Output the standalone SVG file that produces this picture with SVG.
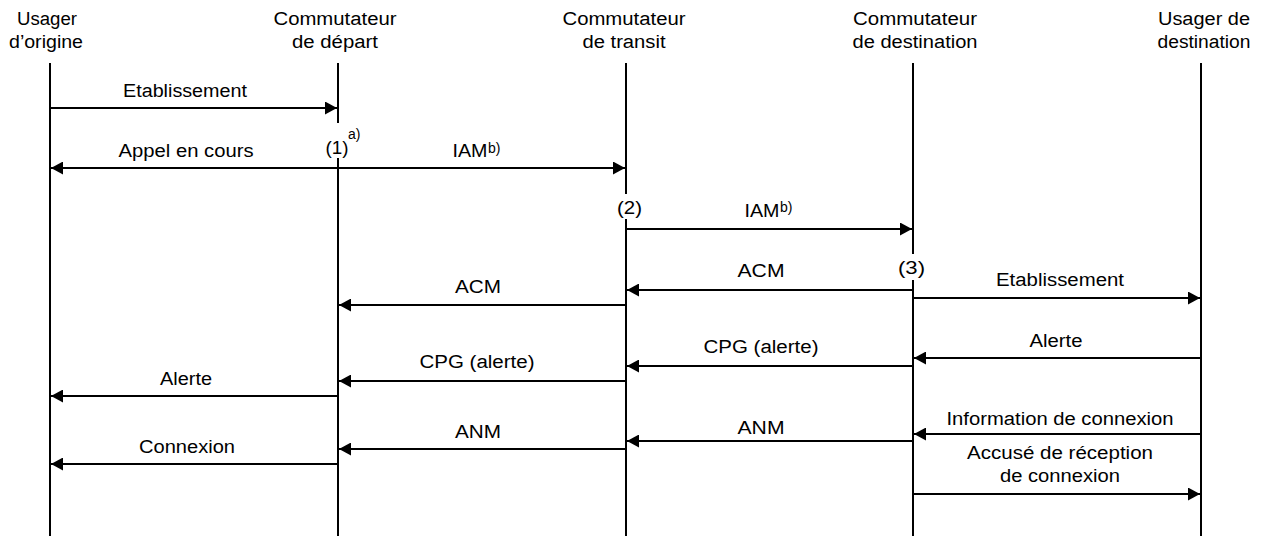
<svg xmlns="http://www.w3.org/2000/svg" width="1262" height="536" viewBox="0 0 1262 536">
  <style>
    text { font-family: "Liberation Sans", Arial, sans-serif; font-size: 18px; fill: #000; text-anchor: middle; }
    text.sup { font-size: 14px; text-anchor: start; }
    .life { stroke: #000; stroke-width: 2; fill: none; }
    .msg { stroke: #000; stroke-width: 2; fill: none; marker-end: url(#head); }
    .both { marker-start: url(#head); }
    .mask { fill: #fff; stroke: none; }
  </style>
  <defs>
    <marker id="head" markerUnits="userSpaceOnUse" markerWidth="12" markerHeight="13" refX="12" refY="6.5" orient="auto-start-reverse">
      <path d="M0,0 L12,6.5 L0,13 Z" fill="#000"/>
    </marker>
  </defs>
  <rect width="1262" height="536" fill="#fff"/>

  <!-- participants -->
  <g id="usager-origine">
    <line class="life" x1="50" y1="63" x2="50" y2="536"/>
    <text x="47" y="25" textLength="60" lengthAdjust="spacingAndGlyphs">Usager</text>
    <text x="46" y="48" textLength="74" lengthAdjust="spacingAndGlyphs">d’origine</text>
  </g>
  <g id="commutateur-depart">
    <line class="life" x1="338" y1="63" x2="338" y2="536"/>
    <text x="335" y="25" textLength="123" lengthAdjust="spacingAndGlyphs">Commutateur</text>
    <text x="335" y="48" textLength="86" lengthAdjust="spacingAndGlyphs">de départ</text>
  </g>
  <g id="commutateur-transit">
    <line class="life" x1="626" y1="63" x2="626" y2="536"/>
    <text x="624" y="25" textLength="123" lengthAdjust="spacingAndGlyphs">Commutateur</text>
    <text x="624" y="48" textLength="83" lengthAdjust="spacingAndGlyphs">de transit</text>
  </g>
  <g id="commutateur-destination">
    <line class="life" x1="913" y1="63" x2="913" y2="536"/>
    <text x="915" y="25" textLength="124" lengthAdjust="spacingAndGlyphs">Commutateur</text>
    <text x="915" y="48" textLength="125" lengthAdjust="spacingAndGlyphs">de destination</text>
  </g>
  <g id="usager-destination">
    <line class="life" x1="1201" y1="63" x2="1201" y2="536"/>
    <text x="1204" y="25" textLength="92" lengthAdjust="spacingAndGlyphs">Usager de</text>
    <text x="1204" y="48" textLength="93" lengthAdjust="spacingAndGlyphs">destination</text>
  </g>

  <!-- messages -->
  <g id="connectors">
    <line class="msg" x1="50" y1="108" x2="337" y2="108"/>
    <line class="msg both" x1="51" y1="168" x2="625" y2="168"/>
    <line class="msg" x1="626" y1="229" x2="912" y2="229"/>
    <line class="msg" x1="913" y1="290" x2="627" y2="290"/>
    <line class="msg" x1="913" y1="298" x2="1200" y2="298"/>
    <line class="msg" x1="626" y1="305" x2="339" y2="305"/>
    <line class="msg" x1="1201" y1="358" x2="914" y2="358"/>
    <line class="msg" x1="913" y1="366" x2="627" y2="366"/>
    <line class="msg" x1="626" y1="381" x2="339" y2="381"/>
    <line class="msg" x1="338" y1="396" x2="51" y2="396"/>
    <line class="msg" x1="1201" y1="434" x2="914" y2="434"/>
    <line class="msg" x1="913" y1="441" x2="627" y2="441"/>
    <line class="msg" x1="626" y1="449" x2="339" y2="449"/>
    <line class="msg" x1="338" y1="464" x2="51" y2="464"/>
    <line class="msg" x1="913" y1="494" x2="1200" y2="494"/>
  </g>

  <!-- message labels -->
  <g id="labels">
    <text x="185" y="97" textLength="124" lengthAdjust="spacingAndGlyphs">Etablissement</text>
    <text x="186" y="157" textLength="135" lengthAdjust="spacingAndGlyphs">Appel en cours</text>
    <text x="470" y="157" textLength="35" lengthAdjust="spacingAndGlyphs">IAM</text>
    <text class="sup" x="488" y="153">b)</text>
    <text x="762" y="217" textLength="35" lengthAdjust="spacingAndGlyphs">IAM</text>
    <text class="sup" x="780" y="212">b)</text>
    <text x="761" y="277" textLength="47" lengthAdjust="spacingAndGlyphs">ACM</text>
    <text x="1060" y="286" textLength="128" lengthAdjust="spacingAndGlyphs">Etablissement</text>
    <text x="478" y="293" textLength="46" lengthAdjust="spacingAndGlyphs">ACM</text>
    <text x="1056" y="347" textLength="53" lengthAdjust="spacingAndGlyphs">Alerte</text>
    <text x="761" y="353" textLength="115" lengthAdjust="spacingAndGlyphs">CPG (alerte)</text>
    <text x="477" y="368" textLength="115" lengthAdjust="spacingAndGlyphs">CPG (alerte)</text>
    <text x="186" y="385" textLength="52" lengthAdjust="spacingAndGlyphs">Alerte</text>
    <text x="1060" y="425" textLength="227" lengthAdjust="spacingAndGlyphs">Information de connexion</text>
    <text x="761" y="434" textLength="47" lengthAdjust="spacingAndGlyphs">ANM</text>
    <text x="478" y="438" textLength="46" lengthAdjust="spacingAndGlyphs">ANM</text>
    <text x="187" y="453" textLength="96" lengthAdjust="spacingAndGlyphs">Connexion</text>
    <text x="1060" y="459" textLength="186" lengthAdjust="spacingAndGlyphs">Accusé de réception</text>
    <text x="1060" y="482" textLength="120" lengthAdjust="spacingAndGlyphs">de connexion</text>
  </g>

  <!-- step markers on the switches -->
  <g id="step-1">
    <rect class="mask" x="325" y="123" width="24" height="35"/>
    <text x="337" y="154" textLength="23" lengthAdjust="spacingAndGlyphs">(1)</text>
    <text class="sup" x="348" y="139">a)</text>
  </g>
  <g id="step-2">
    <rect class="mask" x="616" y="194" width="27" height="25"/>
    <text x="629.5" y="214" textLength="25" lengthAdjust="spacingAndGlyphs">(2)</text>
  </g>
  <g id="step-3">
    <rect class="mask" x="898" y="254" width="28" height="26"/>
    <text x="911.5" y="274" textLength="27" lengthAdjust="spacingAndGlyphs">(3)</text>
  </g>
</svg>
